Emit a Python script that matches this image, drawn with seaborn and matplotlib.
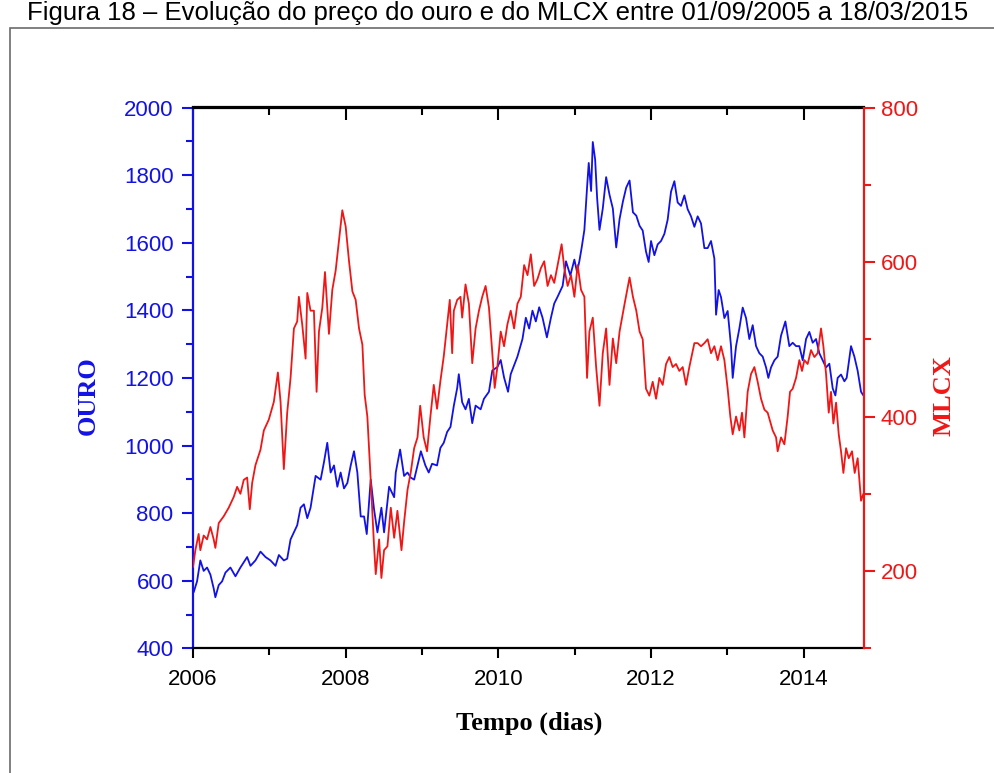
import numpy as np
import pandas as pd
import matplotlib
matplotlib.use("Agg")
import matplotlib.pyplot as plt
from matplotlib.ticker import MultipleLocator, FixedLocator
from matplotlib.patches import Rectangle
import seaborn as sns

# ---------------- data ----------------
gold_years = [2006.009, 2006.053, 2006.096, 2006.140, 2006.184, 2006.228, 2006.271, 2006.293, 2006.337, 2006.381,
              2006.425, 2006.490, 2006.556, 2006.621, 2006.709, 2006.753, 2006.818, 2006.884, 2006.950, 2007.015,
              2007.081, 2007.125, 2007.190, 2007.234, 2007.278, 2007.322, 2007.365, 2007.409, 2007.453, 2007.497,
              2007.540, 2007.606, 2007.672, 2007.716, 2007.759, 2007.803, 2007.847, 2007.891, 2007.934, 2007.978,
              2008.022, 2008.066, 2008.109, 2008.153, 2008.197, 2008.241, 2008.276, 2008.328, 2008.372, 2008.416,
              2008.468, 2008.503, 2008.569, 2008.635, 2008.656, 2008.713, 2008.765, 2008.810, 2008.853, 2008.897,
              2008.941, 2008.985,
              2009.044, 2009.088, 2009.132, 2009.197, 2009.241, 2009.285, 2009.329, 2009.373, 2009.417, 2009.461,
              2009.482, 2009.526, 2009.570, 2009.614, 2009.658, 2009.702, 2009.768, 2009.811, 2009.877, 2009.921,
              2009.987, 2010.031, 2010.075, 2010.127, 2010.162, 2010.250, 2010.316, 2010.360, 2010.404, 2010.447,
              2010.491, 2010.535, 2010.579, 2010.636, 2010.689, 2010.732, 2010.776, 2010.842, 2010.886, 2010.943,
              2010.996, 2011.031, 2011.061, 2011.092, 2011.127, 2011.162, 2011.184, 2011.215, 2011.237, 2011.268,
              2011.294, 2011.325, 2011.368, 2011.412, 2011.456, 2011.500, 2011.544, 2011.588, 2011.632, 2011.675,
              2011.719, 2011.763, 2011.807, 2011.850,
              2011.891, 2011.934, 2011.969, 2012.000, 2012.044, 2012.087, 2012.131, 2012.175, 2012.218, 2012.262,
              2012.306, 2012.349, 2012.393, 2012.437, 2012.480, 2012.524, 2012.568, 2012.611, 2012.655, 2012.699,
              2012.742, 2012.786, 2012.830, 2012.852, 2012.886, 2012.917, 2012.961, 2013.004, 2013.048, 2013.070,
              2013.114, 2013.157, 2013.201, 2013.245, 2013.288, 2013.332, 2013.376, 2013.419, 2013.463, 2013.507,
              2013.537, 2013.572, 2013.616, 2013.659, 2013.703, 2013.760, 2013.812, 2013.856, 2013.900, 2013.943,
              2013.987, 2014.031, 2014.074, 2014.118, 2014.162, 2014.205, 2014.249, 2014.293, 2014.336, 2014.380,
              2014.415, 2014.445, 2014.489, 2014.533, 2014.563, 2014.620, 2014.664, 2014.707, 2014.751, 2014.782]

gold_values = [566, 598, 660, 629, 639, 618, 577, 551, 587, 598,
               624, 639, 613, 639, 670, 644, 660, 686, 670, 660,
               644, 676, 660, 665, 722, 743, 764, 816, 826, 785,
               816, 910, 899, 951, 1008, 920, 941, 878, 920, 873,
               889, 941, 983, 920, 790, 790, 738, 899, 811, 743,
               816, 743, 878, 847, 920, 988, 910, 920, 905, 899,
               941, 983,
               941, 920, 946, 941, 993, 1008, 1040, 1055, 1118, 1170,
               1211, 1128, 1107, 1138, 1066, 1118, 1107, 1138, 1159, 1222,
               1232, 1253, 1201, 1159, 1211, 1263, 1315, 1378, 1346, 1399,
               1367, 1409, 1378, 1320, 1378, 1420, 1440, 1472, 1545, 1503,
               1550, 1513, 1545, 1586, 1638, 1763, 1836, 1753, 1898, 1846,
               1732, 1638, 1701, 1794, 1742, 1701, 1586, 1670, 1722, 1763,
               1784, 1690, 1680, 1650,
               1636, 1574, 1543, 1605, 1563, 1595, 1605, 1626, 1668, 1751,
               1782, 1719, 1709, 1740, 1699, 1678, 1647, 1678, 1657, 1584,
               1584, 1605, 1553, 1387, 1460, 1439, 1377, 1398, 1294, 1200,
               1294, 1346, 1408, 1377, 1315, 1356, 1294, 1273, 1263, 1231,
               1200, 1231, 1252, 1263, 1325, 1367, 1294, 1304, 1294, 1294,
               1252, 1315, 1336, 1304, 1315, 1273, 1252, 1231, 1242, 1169,
               1148, 1200, 1210, 1190, 1200, 1294, 1263, 1221, 1159, 1148]

mlcx_years = [2006.000, 2006.031, 2006.074, 2006.096, 2006.140, 2006.184, 2006.228, 2006.271, 2006.293, 2006.337,
              2006.403, 2006.468, 2006.534, 2006.578, 2006.621, 2006.665, 2006.709, 2006.744, 2006.775, 2006.818,
              2006.884, 2006.928, 2006.993, 2007.059, 2007.112, 2007.147, 2007.190, 2007.234, 2007.278, 2007.322,
              2007.365, 2007.387, 2007.431, 2007.475, 2007.497, 2007.540, 2007.584, 2007.619, 2007.650, 2007.694,
              2007.729, 2007.781, 2007.825, 2007.869, 2007.912, 2007.956, 2008.000, 2008.044, 2008.088, 2008.131,
              2008.175, 2008.219, 2008.249, 2008.284, 2008.328, 2008.372, 2008.394, 2008.438, 2008.468, 2008.503,
              2008.547, 2008.591, 2008.635, 2008.678, 2008.731, 2008.766, 2008.810, 2008.853, 2008.897, 2008.941,
              2008.976,
              2009.022, 2009.066, 2009.110, 2009.154, 2009.197, 2009.241, 2009.285, 2009.329, 2009.364, 2009.395,
              2009.417, 2009.461, 2009.504, 2009.526, 2009.570, 2009.614, 2009.658, 2009.702, 2009.746, 2009.789,
              2009.833, 2009.877, 2009.921, 2009.952, 2009.987, 2010.031, 2010.075, 2010.118, 2010.162, 2010.206,
              2010.250, 2010.294, 2010.338, 2010.382, 2010.425, 2010.469, 2010.513, 2010.557, 2010.601, 2010.645,
              2010.689, 2010.732, 2010.776, 2010.829, 2010.864, 2010.908, 2010.952, 2010.996, 2011.039, 2011.083,
              2011.127, 2011.162, 2011.193, 2011.237, 2011.281, 2011.325, 2011.368, 2011.412, 2011.456, 2011.500,
              2011.544, 2011.588, 2011.654, 2011.719, 2011.763, 2011.807, 2011.850,
              2011.891, 2011.934, 2011.978, 2012.022, 2012.066, 2012.109, 2012.153, 2012.197, 2012.240, 2012.284,
              2012.328, 2012.371, 2012.415, 2012.459, 2012.502, 2012.568, 2012.611, 2012.655, 2012.699, 2012.742,
              2012.786, 2012.830, 2012.873, 2012.917, 2012.961, 2013.004, 2013.039, 2013.070, 2013.114, 2013.157,
              2013.192, 2013.223, 2013.266, 2013.310, 2013.354, 2013.397, 2013.441, 2013.485, 2013.528, 2013.594,
              2013.638, 2013.659, 2013.703, 2013.747, 2013.790, 2013.821, 2013.856, 2013.900, 2013.943, 2013.978,
              2014.009, 2014.052, 2014.096, 2014.140, 2014.183, 2014.227, 2014.258, 2014.293, 2014.328, 2014.358,
              2014.389, 2014.424, 2014.459, 2014.489, 2014.520, 2014.555, 2014.590, 2014.633, 2014.668, 2014.707,
              2014.751, 2014.782]

mlcx_values = [205, 227, 248, 227, 246, 241, 257, 241, 230, 262,
               271, 282, 296, 309, 300, 318, 321, 280, 314, 337,
               357, 382, 396, 419, 457, 419, 332, 405, 450, 514,
               523, 555, 519, 475, 560, 537, 537, 432, 510, 541,
               587, 507, 564, 589, 628, 667, 646, 601, 562, 551,
               514, 493, 428, 400, 318, 232, 196, 241, 191, 227,
               232, 282, 243, 278, 227, 264, 305, 328, 359, 373,
               414,
               373, 355, 400, 441, 410, 446, 478, 519, 551, 482,
               537, 551, 555, 528, 571, 546, 469, 514, 537, 555,
               569, 541, 482, 437, 464, 510, 491, 519, 537, 514,
               546, 555, 596, 583, 610, 569, 578, 592, 601, 569,
               583, 573, 596, 623, 592, 569, 583, 555, 596, 564,
               555, 450, 510, 528, 464, 414, 482, 514, 441, 501,
               469, 510, 546, 580, 555, 537, 510,
               500, 436, 427, 445, 423, 450, 441, 468, 477, 464,
               468, 459, 464, 441, 464, 495, 495, 491, 495, 500,
               482, 491, 473, 491, 473, 436, 400, 377, 400, 382,
               405, 373, 432, 455, 464, 445, 423, 409, 405, 382,
               373, 355, 373, 364, 400, 432, 436, 450, 473, 459,
               473, 468, 486, 477, 482, 514, 491, 455, 405, 432,
               391, 418, 377, 355, 327, 359, 346, 355, 327, 346,
               291, 300]

x_major_ticks = [2006, 2008, 2010, 2012, 2014]
gold_ticks = [400, 600, 800, 1000, 1200, 1400, 1600, 1800, 2000]
mlcx_ticks = [200, 400, 600, 800]

title_text = "Figura 18 \u2013 Evolu\u00e7\u00e3o do pre\u00e7o do ouro e do MLCX entre 01/09/2005 a 18/03/2015"
x_label = "Tempo (dias)"
left_label = "OURO"
right_label = "MLCX"

# ---------------- styling ----------------
sns.set_style("white")
plt.rcParams['font.family'] = ['Liberation Sans', 'DejaVu Sans']

BLUE = "#1212e6"
RED = "#f01616"

W, H = 995, 773
fig = plt.figure(figsize=(W / 100, H / 100), dpi=100)
fig.patch.set_facecolor("white")

x0, x1 = 193, 864
y0, y1 = 107.5, 648.3
ax = fig.add_axes([x0 / W, 1 - y1 / H, (x1 - x0) / W, (y1 - y0) / H])

gold_df = pd.DataFrame({"ano": gold_years, "ouro": gold_values})
mlcx_df = pd.DataFrame({"ano": mlcx_years, "mlcx": mlcx_values})

sns.lineplot(data=gold_df, x="ano", y="ouro", ax=ax, color=BLUE, linewidth=1.3, sort=False)
ax2 = ax.twinx()
sns.lineplot(data=mlcx_df, x="ano", y="mlcx", ax=ax2, color=RED, linewidth=1.3, sort=False)

ax.set_xlim(2006, 2014.79)
ax.set_ylim(400, 2000)
ax2.set_ylim(100, 800)

ax.set_xlabel("")
ax.set_ylabel("")
ax2.set_ylabel("")

ax.xaxis.set_major_locator(FixedLocator(x_major_ticks))
ax.xaxis.set_minor_locator(MultipleLocator(1))
ax.yaxis.set_major_locator(FixedLocator(gold_ticks))
ax.yaxis.set_minor_locator(MultipleLocator(100))
ax2.yaxis.set_major_locator(FixedLocator(mlcx_ticks))
ax2.yaxis.set_minor_locator(MultipleLocator(100))
ax.set_xticklabels([str(t) for t in x_major_ticks])
ax.set_yticklabels([str(t) for t in gold_ticks])
ax2.set_yticklabels([str(t) for t in mlcx_ticks])

fs = 16
# spines
for s in ["top", "bottom"]:
    ax.spines[s].set_color("black")
    ax.spines[s].set_linewidth(1.6)
ax.spines["left"].set_color(BLUE)
ax.spines["left"].set_linewidth(1.6)
ax.spines["right"].set_visible(False)
for s in ["left", "top", "bottom"]:
    ax2.spines[s].set_visible(False)
ax2.spines["right"].set_color(RED)
ax2.spines["right"].set_linewidth(1.6)

ax.tick_params(axis="x", which="major", direction="out", length=7, width=1.5,
               colors="black", labelsize=fs, pad=8, bottom=True, top=False)
ax.tick_params(axis="x", which="minor", direction="out", length=5, width=1.5,
               colors="black", bottom=True, top=False)
ax.tick_params(axis="y", which="major", direction="out", length=8, width=1.5,
               colors=BLUE, labelsize=fs, pad=6, left=True, right=False)
ax.tick_params(axis="y", which="minor", direction="out", length=5, width=1.5,
               colors=BLUE, left=True, right=False)
ax2.tick_params(axis="y", which="major", direction="out", length=8, width=1.5,
                colors=RED, labelsize=fs, pad=4, right=True, left=False)
ax2.tick_params(axis="y", which="minor", direction="out", length=5, width=1.5,
                colors=RED, right=True, left=False)

# top axis: inward ticks (mirror), no labels
top = ax.secondary_xaxis("top")
top.xaxis.set_major_locator(FixedLocator(x_major_ticks))
top.xaxis.set_minor_locator(MultipleLocator(1))
top.tick_params(axis="x", which="major", direction="in", length=9, width=1.5,
                colors="black", labeltop=False)
top.tick_params(axis="x", which="minor", direction="in", length=6, width=1.5,
                colors="black")
top.spines["top"].set_linewidth(1.6)
top.spines["top"].set_color("black")

# axis titles
fig.text(529 / W, 1 - 723 / H, x_label, ha="center", va="center",
         fontsize=19, fontweight="bold", family=["Liberation Serif", "DejaVu Serif"], color="black")
fig.text(88 / W, 1 - 396 / H, left_label, ha="center", va="center", rotation=90,
         fontsize=19, fontweight="bold", family=["Liberation Serif", "DejaVu Serif"], color=BLUE)
fig.text(944 / W, 1 - 396 / H, right_label, ha="center", va="center", rotation=90,
         fontsize=19, fontweight="bold", family=["Liberation Serif", "DejaVu Serif"], color=RED)

# page frame and caption
fig.patches.append(Rectangle((10 / W, -0.05), 1.2, 1 - 28 / H + 0.05, transform=fig.transFigure,
                             fill=False, edgecolor="#6b6b6b", linewidth=1.2))
fig.text(27 / W, 1 - 20 / H, title_text, ha="left", va="baseline", fontsize=18.5,
         family=["Liberation Sans", "DejaVu Sans"], color="black")

fig.savefig("out.png", dpi=100, facecolor="white")
